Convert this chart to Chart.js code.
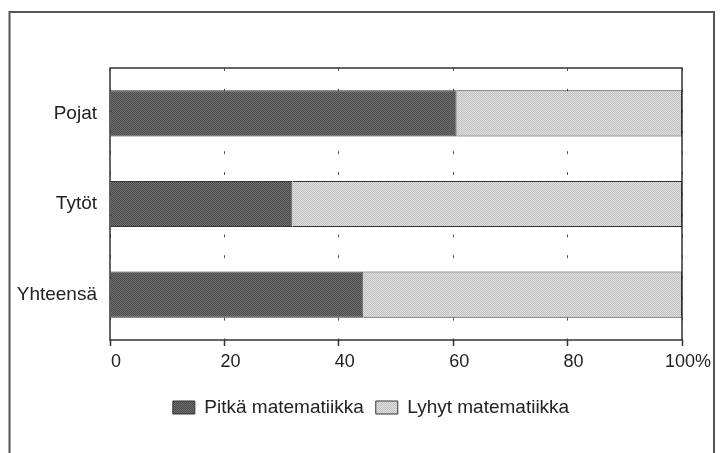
<!DOCTYPE html>
<html>
<head>
<meta charset="utf-8">
<script src="https://cdn.jsdelivr.net/npm/chart.js@4.4.1/dist/chart.umd.min.js"></script>
<style>
  html, body { margin: 0; padding: 0; background: #fff; }
  #wrap { width: 720px; height: 453px; }
</style>
</head>
<body>
<div id="wrap"><canvas id="myChart" width="720" height="453"></canvas></div>
<script>
// Données
const categories = ['Pojat', 'Tytöt', 'Yhteensä'];
const pitka = [60.6, 31.9, 44.3];
const lyhyt = [39.4, 68.1, 55.7];
const seriesNames = ['Pitkä matematiikka', 'Lyhyt matematiikka'];
const xTicks = [0, 20, 40, 60, 80, 100];

// Petit motif pointillé pour imiter la trame d'impression
function makePattern(c1, c2) {
    const p = document.createElement('canvas');
    p.width = 2; p.height = 2;
    const g = p.getContext('2d');
    g.fillStyle = c1; g.fillRect(0, 0, 2, 2);
    g.fillStyle = c2; g.fillRect(0, 0, 1, 1); g.fillRect(1, 1, 1, 1);
    return g.createPattern(p, 'repeat');
}

const ctx = document.getElementById('myChart').getContext('2d');
const darkFill = makePattern('#727272', '#474747');
const lightFill = makePattern('#e2e2e2', '#bdbdbd');

// Cadres : contour extérieur + boîte du graphique
const frames = {
    id: 'frames',
    afterLayout(chart) {
        // décale la légende pour la centrer comme dans l'original
        if (chart.legend) chart.legend.left += 50;
    },
    beforeDatasetsDraw(chart) {
        const a = chart.chartArea;
        const c = chart.ctx;
        c.save();
        c.strokeStyle = '#333';
        c.lineWidth = 1.5;
        c.strokeRect(a.left, a.top, a.right - a.left, a.bottom - a.top);
        c.restore();
    },
    afterDraw(chart) {
        const c = chart.ctx;
        c.save();
        c.strokeStyle = '#555';
        c.lineWidth = 2;
        c.strokeRect(9.5, 12, 704.5, 460);
        c.restore();
    }
};

const font = "'Liberation Sans', Arial, sans-serif";

new Chart(ctx, {
    type: 'bar',
    data: {
        labels: categories,
        datasets: [{
            label: seriesNames[0],
            data: pitka,
            backgroundColor: darkFill,
            borderColor: '#333',
            borderWidth: 1,
            barPercentage: 0.51,
            categoryPercentage: 1
        }, {
            label: seriesNames[1],
            data: lyhyt,
            backgroundColor: lightFill,
            borderColor: '#333',
            borderWidth: 1,
            barPercentage: 0.51,
            categoryPercentage: 1
        }]
    },
    options: {
        indexAxis: 'y',
        responsive: false,
        animation: false,
        layout: { padding: { top: 68, left: 10, right: 38, bottom: 26 } },
        scales: {
            x: {
                stacked: true,
                min: 0,
                max: 100,
                afterBuildTicks: function(axis) {
                    axis.ticks = xTicks.map(v => ({ value: v }));
                },
                afterFit: function(axis) { axis.height = 46; },
                border: { display: false, dash: [3, 17.8] },
                grid: {
                    color: '#555',
                    lineWidth: 1,
                    tickLength: 6,
                    tickColor: '#333',
                    tickWidth: 1.5
                },
                ticks: {
                    padding: 5,
                    labelOffset: 6,
                    maxRotation: 0,
                    color: '#222',
                    font: { family: font, size: 18 },
                    callback: function(v) { return v === 100 ? '100%' : v; }
                }
            },
            y: {
                stacked: true,
                afterFit: function(axis) { axis.width = 100; },
                border: { display: false },
                grid: { display: false, drawTicks: false },
                ticks: {
                    padding: 13,
                    color: '#222',
                    font: { family: font, size: 19 }
                }
            }
        },
        plugins: {
            legend: {
                position: 'bottom',
                labels: {
                    boxWidth: 22,
                    boxHeight: 13,
                    padding: 12,
                    color: '#222',
                    font: { family: font, size: 19 }
                }
            },
            tooltip: { enabled: false }
        }
    },
    plugins: [frames]
});
</script>
</body>
</html>
